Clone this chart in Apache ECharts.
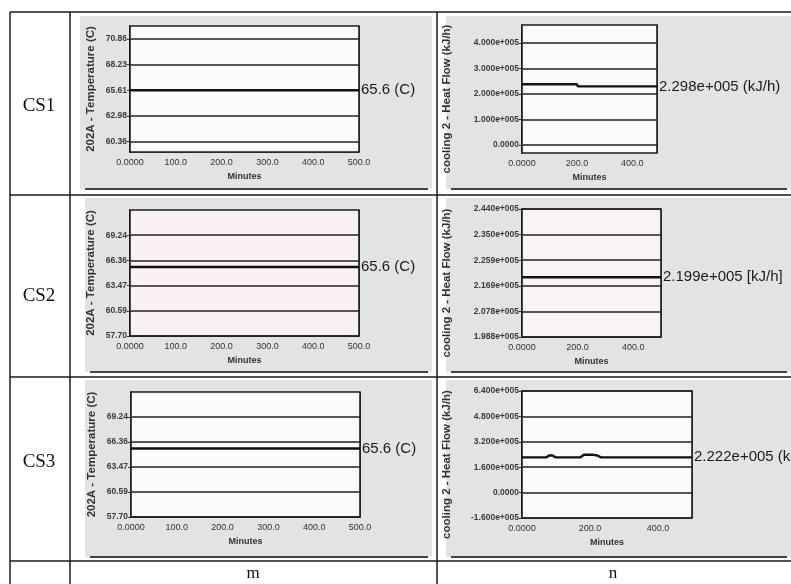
<!DOCTYPE html>
<html><head><meta charset="utf-8">
<script src="https://cdn.jsdelivr.net/npm/echarts@6/dist/echarts.min.js"></script>
<style>html,body{margin:0;padding:0;background:#fff}#c{width:791px;height:584px}</style>
</head><body><div id="c"></div>
<script>
// ---------- data ----------
const rowLabels = ['CS1', 'CS2', 'CS3'];
const colLabels = ['m', 'n'];

const xTicksM = [0, 100, 200, 300, 400, 500];
const xTickLabelsM = ['0.0000', '100.0', '200.0', '300.0', '400.0', '500.0'];
const xTicksN = [0, 200, 400];
const xTickLabelsN = ['0.0000', '200.0', '400.0'];
const xName = 'Minutes';

const tempName = '202A - Temperature (C)';
const heatName = 'cooling 2 - Heat Flow (kJ/h)';

// CS1 / m
const t1Range = [59.28, 72.19];
const t1Ticks = [60.36, 62.98, 65.61, 68.23, 70.86];
const t1Labels = ['60.36', '62.98', '65.61', '68.23', '70.86'];
const cs1TempMin = [0, 100, 200, 300, 400, 500];
const cs1Temp = [65.6, 65.6, 65.6, 65.6, 65.6, 65.6];
// CS2 / m and CS3 / m
const t23Range = [57.70, 72.12];
const t23Ticks = [57.70, 60.585, 63.47, 66.355, 69.24];
const t23Labels = ['57.70', '60.59', '63.47', '66.36', '69.24'];
const cs2TempMin = [0, 100, 200, 300, 400, 500];
const cs2Temp = [65.6, 65.6, 65.6, 65.6, 65.6, 65.6];
const cs3TempMin = [0, 100, 200, 300, 400, 500];
const cs3Temp = [65.6, 65.6, 65.6, 65.6, 65.6, 65.6];
const tempEndLabels = ['65.6 (C)', '65.6 (C)', '65.6 (C)'];

// CS1 / n
const h1Range = [-31400, 470600];
const h1Ticks = [0, 100000, 200000, 300000, 400000];
const h1Labels = ['0.0000', '1.000e+005', '2.000e+005', '3.000e+005', '4.000e+005'];
const cs1HeatMin = [0, 100, 199, 203, 300, 400, 490];
const cs1Heat = [238000, 238000, 238000, 229800, 229800, 229800, 229800];
const h1XMax = 490;
// CS2 / n
const h2Range = [198800, 244000];
const h2Ticks = [198800, 207840, 216880, 225920, 234960, 244000];
const h2Labels = ['1.988e+005', '2.078e+005', '2.169e+005', '2.259e+005', '2.350e+005', '2.440e+005'];
const cs2HeatMin = [0, 68, 71, 74, 400, 403, 406, 500];
const cs2Heat = [219900, 219900, 220300, 219900, 219900, 220200, 219900, 219900];
const h2XMax = 500;
// CS3 / n
const h3Range = [-160000, 640000];
const h3Ticks = [-160000, 0, 160000, 320000, 480000, 640000];
const h3Labels = ['-1.600e+005', '0.0000', '1.600e+005', '3.200e+005', '4.800e+005', '6.400e+005'];
const cs3HeatMin = [0, 72, 80, 90, 98, 172, 182, 210, 222, 232, 500];
const cs3Heat = [222200, 222200, 234000, 234000, 222200, 222200, 238000, 238000, 234000, 222200, 222200];
const h3XMax = 500;
const heatEndLabels = ['2.298e+005 (kJ/h)', '2.199e+005 [kJ/h]', '2.222e+005 (kJ/h)'];

// ---------- build ----------
function pick(ticks, labels, span) {
  return function (v) {
    for (let i = 0; i < ticks.length; i++) {
      if (Math.abs(ticks[i] - v) < span * 1e-4) return labels[i];
    }
    return '';
  };
}
const labelFont = 'Liberation Sans, Arial, sans-serif';
const endFont = 'Liberation Sans, Arial, sans-serif';

const charts = [
  {grid: {left: 130, top: 26, width: 229, height: 126}, range: t1Range, ticks: t1Ticks, labels: t1Labels, xs: cs1TempMin, ys: cs1Temp, xt: xTicksM, xl: xTickLabelsM, xi: 100, xmax: 500, name: tempName, nameGap: 33, end: tempEndLabels[0], bg: '#fbfbfb'},
  {grid: {left: 130, top: 210, width: 229, height: 126}, range: t23Range, ticks: t23Ticks, labels: t23Labels, xs: cs2TempMin, ys: cs2Temp, xt: xTicksM, xl: xTickLabelsM, xi: 100, xmax: 500, name: tempName, nameGap: 33, end: tempEndLabels[1], bg: '#f9f1f4'},
  {grid: {left: 131, top: 392, width: 229, height: 125}, range: t23Range, ticks: t23Ticks, labels: t23Labels, xs: cs3TempMin, ys: cs3Temp, xt: xTicksM, xl: xTickLabelsM, xi: 100, xmax: 500, name: tempName, nameGap: 33, end: tempEndLabels[2], bg: '#fbfbfb'},
  {grid: {left: 522, top: 25, width: 135, height: 128}, range: h1Range, ticks: h1Ticks, labels: h1Labels, xs: cs1HeatMin, ys: cs1Heat, xt: xTicksN, xl: xTickLabelsN, xi: 200, xmax: h1XMax, name: heatName, nameGap: 69, end: heatEndLabels[0], bg: '#fbfbfb'},
  {grid: {left: 522, top: 209, width: 139, height: 128}, range: h2Range, ticks: h2Ticks, labels: h2Labels, xs: cs2HeatMin, ys: cs2Heat, xt: xTicksN, xl: xTickLabelsN, xi: 200, xmax: h2XMax, name: heatName, nameGap: 69, end: heatEndLabels[1], bg: '#faf3f5'},
  {grid: {left: 522, top: 391, width: 170, height: 127}, range: h3Range, ticks: h3Ticks, labels: h3Labels, xs: cs3HeatMin, ys: cs3Heat, xt: xTicksN, xl: xTickLabelsN, xi: 200, xmax: h3XMax, name: heatName, nameGap: 69, end: heatEndLabels[2], bg: '#fbfbfb'}
];

const option = {
  animation: false,
  backgroundColor: '#ffffff',
  grid: [], xAxis: [], yAxis: [], series: [], graphic: []
};

charts.forEach(function (c, i) {
  option.grid.push(Object.assign({show: true, backgroundColor: c.bg, borderColor: '#1e1e1e', borderWidth: 1.6, z: 2}, c.grid));
  option.xAxis.push({
    type: 'value', gridIndex: i, min: 0, max: c.xmax, interval: c.xi,
    name: xName, nameLocation: 'middle', nameGap: 20,
    nameTextStyle: {fontFamily: labelFont, fontSize: 9, fontWeight: 'bold', color: '#333'},
    axisLine: {show: true, lineStyle: {color: '#1e1e1e', width: 1.6}},
    axisTick: {show: false},
    axisLabel: {showMaxLabel: true, fontFamily: labelFont, fontSize: 9, color: '#333', margin: 6,
      formatter: pick(c.xt, c.xl, c.xmax)},
    splitLine: {show: true, lineStyle: {color: '#222', width: 1.6}}
  });
  const span = c.range[1] - c.range[0];
  option.yAxis.push({
    type: 'value', gridIndex: i, min: c.range[0], max: c.range[1],
    name: c.name, nameLocation: 'middle', nameRotate: 90, nameGap: c.nameGap,
    nameTextStyle: {fontFamily: labelFont, fontSize: i < 3 ? 11.5 : 11.5, fontWeight: 'bold', color: '#333',
      padding: i < 3 ? [0, 0, 0, 0] : [0, 20, 0, 0]},
    axisLine: {show: true, lineStyle: {color: '#1e1e1e', width: 1.6}},
    axisTick: {show: true, length: 3, customValues: c.ticks, lineStyle: {color: '#333'}},
    axisLabel: {customValues: c.ticks, fontFamily: labelFont, fontSize: 8.5, fontWeight: 'bold', color: '#3a3a3a', margin: 3,
      formatter: pick(c.ticks, c.labels, span)},
    splitLine: {show: false}
  });
  option.series.push({
    type: 'line', xAxisIndex: i, yAxisIndex: i,
    data: c.xs.map(function (x, k) { return [x, c.ys[k]]; }),
    showSymbol: false, symbol: 'none', z: 5,
    lineStyle: {color: '#111', width: 2.4},
    endLabel: {show: true, formatter: c.end, distance: 2, fontFamily: endFont, fontSize: 15, color: '#1a1a1a'},
    markLine: {
      silent: true, symbol: ['none', 'none'], animation: false,
      label: {show: false},
      lineStyle: {color: '#222', width: 1.6, type: 'solid'},
      emphasis: {disabled: true},
      data: c.ticks.map(function (v) { return {yAxis: v}; })
    }
  });
});

// panels (scanned gray background) and underlines
const panels = [
  [80, 16, 352, 173], [85, 198, 347, 174], [85, 380, 347, 177],
  [446, 16, 345, 173], [446, 198, 345, 174], [446, 380, 345, 177]
];
panels.forEach(function (p) {
  option.graphic.push({type: 'rect', z: -10, shape: {x: p[0], y: p[1], width: p[2], height: p[3]}, style: {fill: '#e3e3e3'}});
  option.graphic.push({type: 'line', z: -9, shape: {x1: p[0] + 5, y1: p[1] + p[3], x2: p[0] + p[2] - 4, y2: p[1] + p[3]}, style: {stroke: '#444', lineWidth: 2}});
});
// table lines
[12, 195, 377, 561].forEach(function (y) {
  option.graphic.push({type: 'line', z: 20, shape: {x1: 10, y1: y, x2: 791, y2: y}, style: {stroke: '#1a1a1a', lineWidth: 1.5}});
});
[10, 70, 437].forEach(function (x) {
  option.graphic.push({type: 'line', z: 20, shape: {x1: x, y1: 12, x2: x, y2: 584}, style: {stroke: '#1a1a1a', lineWidth: 1.5}});
});
// row and column headers
const rowY = [106, 296, 462];
rowLabels.forEach(function (t, i) {
  option.graphic.push({type: 'text', z: 20, style: {text: t, x: 39, y: rowY[i], align: 'center', verticalAlign: 'middle', font: '19px "Liberation Serif", "DejaVu Serif", serif', fill: '#111'}});
});
const colX = [253, 613];
colLabels.forEach(function (t, i) {
  option.graphic.push({type: 'text', z: 20, style: {text: t, x: colX[i], y: 574, align: 'center', verticalAlign: 'middle', font: '17px "Liberation Serif", "DejaVu Serif", serif', fill: '#111'}});
});

const chart = echarts.init(document.getElementById('c'), null, {renderer: 'canvas'});
chart.setOption(option);
</script>
</body></html>
